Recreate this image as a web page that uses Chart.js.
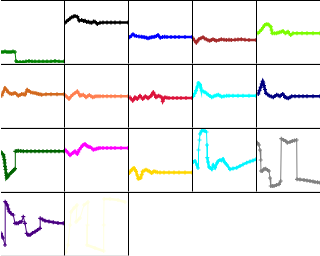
<!DOCTYPE html>
<html>
<head>
<meta charset="utf-8">
<script src="https://cdn.jsdelivr.net/npm/chart.js"></script>
<style>
  html, body { margin: 0; padding: 0; background: #fff; overflow: hidden; }
  #grid { position: relative; width: 320px; height: 256px; }
  .cell { position: absolute; width: 63px; height: 62px; border-top: 1px solid #000; border-right: 1px solid #000; border-bottom: 1px solid #e3e3e3; }
  .empty { position: absolute; width: 64px; height: 63px; border-top: 1px solid #000; }
  .cell canvas { display: block; }
</style>
</head>
<body>
<div id="grid"></div>
<script>
// Each panel: time values (x) and readings (y)
const time01 = [0, 2, 4, 6, 8, 10, 12, 14, 15, 16, 19, 22, 25, 28, 31, 34, 38, 42, 46, 50, 54, 58, 63]
const value01 = [11, 11, 11.5, 11, 11, 11, 11.5, 11, 2, 1, 1, 1, 1.5, 2, 1.5, 1.5, 1.5, 1.5, 1.5, 1.5, 2, 1.5, 1.5]

const time02 = [0, 1.5, 3.3, 5, 6.7, 8.5, 10, 12.3, 14.3, 16.7, 18.5, 20, 21.7, 23.3, 25, 26.7, 28.5, 30, 32.3, 35, 38, 42, 46, 50, 55, 63]
const value02 = [40.3, 41.5, 43, 44.5, 45.7, 46.5, 47, 46.3, 42.3, 43, 42, 42.3, 41, 41.3, 40.5, 40.3, 41.5, 41.3, 39, 40.3, 40.5, 40.5, 40.5, 40.5, 40.5, 40.5]

const time03 = [0.7, 2.5, 4, 5.5, 7.3, 10, 12.3, 14, 15.7, 17.5, 19, 20.7, 22.3, 24, 25.7, 27.5, 29, 31.3, 33.5, 35.7, 38, 42, 46, 50, 56, 63]
const value03 = [25.7, 27.5, 28.7, 27.5, 27, 26.5, 26.3, 26, 25.7, 25.3, 24.7, 25.3, 25.7, 26, 26.3, 27, 28, 25.3, 26, 26.3, 26, 26, 26, 26, 26, 26]

const time04 = [0, 1.5, 3.3, 4.5, 5.7, 8, 10, 11.5, 13.3, 15, 16.7, 18.3, 20, 21.7, 23.3, 26, 28.3, 31, 33.3, 36, 38.3, 42, 45, 48.3, 52, 56, 63]
const value04 = [24.7, 22.5, 20.3, 22, 23.7, 24.8, 25.7, 24.5, 23.7, 22.8, 22.3, 23, 23.7, 23, 22.3, 23, 23.7, 23.3, 23, 23.3, 23, 23.2, 23.5, 23.7, 23.3, 23, 23]

const time05 = [1, 2.7, 4.3, 6, 7.7, 9.3, 11, 12.5, 13.7, 14.5, 15.3, 17.3, 19.3, 21, 22.7, 24.3, 26, 28.3, 29.7, 31, 32.3, 33.7, 36, 40, 45, 50, 56, 63]
const value05 = [29.7, 31.5, 33, 35.5, 38, 38.8, 38.7, 37.5, 36.3, 33, 29.7, 29.7, 29.7, 30.2, 30.7, 31.3, 32, 29.7, 30.5, 31.3, 29.5, 28, 29.7, 29.7, 29.7, 29.7, 29.7, 29.7]

const time06 = [0.7, 2.3, 4, 5.7, 7.3, 9, 10.7, 12.3, 14, 15.7, 17.3, 19, 20.7, 22.3, 24, 25.3, 26.3, 28, 29.7, 32, 34, 35.7, 37.3, 39, 40.7, 45, 50, 56, 63]
const value06 = [31.3, 35, 39, 37, 34.7, 33.5, 33, 33.5, 34, 32.7, 31.3, 32, 33, 32.7, 32.3, 35, 37.3, 36, 34.7, 34.3, 34, 33.5, 33, 32.7, 32.3, 32.7, 32.7, 32.7, 32.7]

const time07 = [0, 2, 4, 6, 7.7, 10, 12.3, 13.7, 15, 16.7, 18.3, 19.7, 21, 22.7, 24.3, 26, 27.7, 29.3, 31, 33, 35, 38, 42, 46, 50, 56, 63]
const value07 = [32, 30, 28, 30.5, 32.3, 34, 35.7, 33.5, 31.3, 31.8, 32.3, 31, 29.7, 30.8, 32, 30.8, 29.7, 30.2, 30.7, 30.7, 30.7, 30.7, 30.7, 30.7, 30.7, 30.7, 30.7]

const time08 = [1, 2.3, 3.7, 5, 6, 7.2, 8.3, 9.7, 11, 12.3, 13.7, 15, 16.3, 17.7, 19, 20.3, 21.7, 23, 24.3, 25.7, 27, 28.3, 29.7, 31.2, 32.7, 33.7, 35, 36, 38, 40, 44, 48, 52, 57, 63]
const value08 = [29.7, 28, 26.3, 28, 29.7, 28.8, 28, 29.7, 31.3, 29.7, 28, 29.3, 30.7, 29.7, 28.7, 29.7, 30.7, 32.7, 34.7, 32.2, 29.7, 30.5, 31.3, 30.5, 29.7, 25.7, 28.5, 29.7, 29.3, 29, 29, 29, 29, 29, 29]

const time09 = [0.3, 1.7, 3, 4.2, 5.3, 6.2, 7, 7.8, 8.7, 10.3, 12, 13.7, 15.3, 17, 18.7, 20.3, 22, 23.7, 25.3, 27, 28.7, 31, 33.7, 36, 40, 45, 50, 56, 63]
const value09 = [30.7, 33.5, 36.3, 40, 44, 43.5, 42.3, 39, 36.3, 35.5, 34.7, 33.5, 32.3, 31, 29.7, 30.5, 31.3, 31.8, 32.3, 31.3, 30.3, 30.8, 31.3, 31.3, 31.3, 31.3, 31.3, 31.3, 31.3]

const time10 = [1.3, 2.5, 3.7, 4.7, 5.7, 6.3, 7, 8, 9, 10.7, 12.3, 14.3, 16.3, 18, 19.7, 21.3, 23, 24.3, 25.7, 27, 28, 29.7, 31.3, 33, 34.7, 38, 42, 46, 50, 56, 63]
const value10 = [33, 36.5, 39.7, 43, 45.7, 44, 41.3, 37.5, 33.7, 32.5, 31.3, 30.5, 29.7, 31, 32.3, 31.5, 30.7, 32, 33, 31.5, 29.7, 29.2, 28.7, 29.7, 30.7, 30.7, 30.7, 30.7, 30.7, 30.7, 30.7]

const time11 = [0, 1.2, 2.3, 2.8, 3.3, 3.7, 4, 4.5, 5, 5.4, 5.7, 6.5, 7.3, 8.5, 9.7, 11, 12.3, 13.2, 14, 14.3, 15.8, 17.3, 19.8, 22.3, 26, 30, 34, 38, 42, 46, 50, 54, 58, 63]
const value11 = [39, 37.5, 36.3, 34, 31.3, 28, 24.7, 21.5, 18, 15.5, 13, 14.2, 15.3, 16.6, 18, 19.2, 20.3, 21.3, 22.3, 39.7, 40, 40.3, 40, 39.7, 39.7, 39.7, 39.7, 39.7, 39.7, 39.7, 39.7, 39.7, 39.7, 39.7]

const time12 = [0, 1.2, 2.3, 3.7, 5, 6.3, 7.7, 8.8, 10, 11.2, 12.3, 13.3, 14.3, 16, 17.7, 18.8, 20, 21.2, 22.3, 23.7, 25, 26.7, 28.3, 30, 31.7, 33.3, 35, 38, 42, 46, 50, 56, 63]
const value12 = [41.3, 40.2, 39, 37.3, 35.7, 36.8, 38, 38.8, 39.7, 38.3, 37, 39.2, 41.3, 43.5, 45.7, 46.3, 47, 45.8, 44.7, 44.3, 44, 42.7, 41.3, 41.8, 42.3, 42.7, 43, 43, 43, 43, 43, 43, 43]

const time13 = [0.3, 1.5, 2.7, 3.8, 5, 6, 7, 8.2, 9.3, 10.5, 11.7, 12.7, 13.7, 15.3, 17, 18.7, 20.3, 21.5, 22.7, 23.8, 25, 26.7, 28.3, 31, 35, 40, 45, 50, 56, 63]
const value13 = [18, 19.7, 21.3, 22.2, 23, 21.3, 19.7, 16, 12.3, 12.7, 13, 16.3, 19.7, 20.5, 21.3, 20.5, 19.7, 18.8, 18, 18.8, 19.7, 19.2, 18.7, 18.5, 18.5, 18.5, 18.5, 18.5, 18.5, 18.5]

const time14 = [0.3, 2, 4, 5, 5.5, 6.5, 7, 8.5, 10, 12, 13.5, 14, 14.3, 15, 16, 17.3, 18.7, 20.3, 22, 24, 25.3, 27, 28.7, 30, 32, 34, 37, 40, 43.7, 47, 50, 53.7, 57, 60, 63]
const value14 = [29, 30, 26, 23, 41, 51, 57, 60, 60.5, 60, 59, 46, 33.3, 29, 24, 23, 21.7, 26, 23.3, 28, 30, 31, 30.5, 32, 28.3, 26, 21.7, 22.5, 23.3, 25, 26.5, 28.3, 29.5, 30.5, 31.7]

const time15 = [0.3, 2, 3, 3.7, 4, 5.3, 7, 8.7, 10.5, 12, 13, 13.7, 15.3, 17, 19.5, 22, 23.7, 24.3, 26.5, 28.7, 30.3, 33, 35.3, 37.5, 39.7, 40, 43, 47, 50, 53, 56, 58, 60.5, 63]
const value15 = [48.3, 46, 41, 31, 20, 20, 22, 22.3, 21, 20, 13, 5, 5, 5, 6, 6.7, 10, 52.3, 51, 50, 48.3, 49, 50, 50.5, 51, 11.7, 11.5, 11, 10.5, 10, 9.5, 9, 8.7, 8.3]

const time16 = [0, 2, 4, 4.2, 6.3, 7.3, 8.3, 10, 12.3, 14, 15.7, 17.3, 19, 20.7, 22.3, 24, 25.7, 27, 29, 31.5, 34, 36.5, 39, 39.2, 41.5, 44, 48, 52.3, 57, 62.3]
const value16 = [21.7, 17, 10, 53.3, 50, 46, 43.3, 41.5, 40, 31.7, 31.7, 31.7, 33, 33.3, 38.3, 31.7, 21.7, 20, 20, 22, 23.3, 25, 26.7, 36.7, 35.5, 34.3, 33.5, 32.7, 32, 31.7]

const time17 = [1, 3, 5, 6, 9, 12, 11, 15, 19, 23, 22.5, 22, 30, 38.7, 38.7, 39, 45, 53, 60]
const value17 = [3, 10, 30, 43, 47, 50, 33, 37, 50, 53, 30, 10, 7, 4, 30, 56, 56, 55, 53]

const times = [time01, time02, time03, time04, time05, time06, time07, time08, time09, time10, time11, time12, time13, time14, time15, time16, time17]
const values = [value01, value02, value03, value04, value05, value06, value07, value08, value09, value10, value11, value12, value13, value14, value15, value16, value17]
const colors = ['#008000', '#000000', '#0000ff', '#a52a2a', '#7cfc00', '#d2691e', '#ff7f50', '#dc143c', '#00ffff', '#000080', '#006400', '#ff00ff', '#ffd700', '#00f5ff', '#808080', '#4b0082', '#ffffe0']

let grid = document.querySelector('#grid')

for (let i = 0; i < 20; i++) {
  let row = Math.floor(i / 5)
  let col = i % 5

  // Empty slots only keep the top rule
  if (i >= times.length) {
    let blank = document.createElement('div')
    blank.className = 'empty'
    blank.style.left = (col * 64) + 'px'
    blank.style.top = (row * 64) + 'px'
    grid.appendChild(blank)
    continue
  }

  let cell = document.createElement('div')
  cell.className = 'cell'
  cell.style.left = (col * 64 + 1) + 'px'
  cell.style.top = (row * 64) + 'px'
  let canvas = document.createElement('canvas')
  canvas.width = 63
  canvas.height = 62
  cell.appendChild(canvas)
  grid.appendChild(cell)

  let points = times[i].map((t, k) => ({ x: t, y: values[i][k] }))

  new Chart(canvas, {
    type: 'line',
    data: {
      datasets: [{
        data: points,
        borderColor: colors[i],
        backgroundColor: colors[i],
        borderWidth: 2.5,
        pointStyle: 'cross',
        pointRadius: 2,
        pointBorderWidth: 1.2,
        tension: 0,
        // long jumps are drawn thin, like in the picture
        segment: {
          borderWidth: ctx => Math.abs(ctx.p1.y - ctx.p0.y) > 5 ? 1 : 2.5
        }
      }]
    },
    options: {
      responsive: false,
      animation: false,
      events: [],
      layout: { padding: 0, autoPadding: false },
      plugins: { legend: { display: false }, tooltip: { enabled: false } },
      scales: {
        x: { type: 'linear', display: false, min: 0, max: 63 },
        y: { display: false, min: 0, max: 62 }
      }
    }
  })
}
</script>
</body>
</html>
